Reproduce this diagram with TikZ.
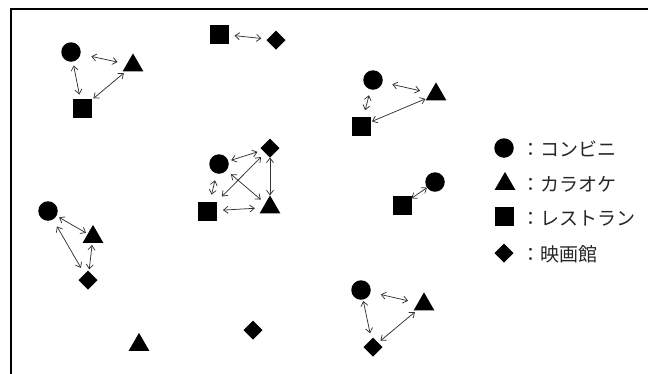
\documentclass[tikz,border=0pt]{standalone}
\usepackage{fontspec}
\newfontfamily\jpfont{Noto Sans CJK JP}
\usetikzlibrary{shapes.geometric,arrows.meta}
\definecolor{linkgrey}{HTML}{333333}
\definecolor{labelgrey}{HTML}{262626}

\begin{document}
\begin{tikzpicture}[
  x=1pt, y=-1pt,
  spot/.style={fill=black, draw=none, inner sep=0pt, outer sep=0pt},
  conveni/.style={spot, circle, minimum size=19.5pt},
  karaoke/.style={spot, regular polygon, regular polygon sides=3, minimum size=24pt},
  restaurant/.style={spot, rectangle, minimum size=19pt},
  cinema/.style={spot, diamond, minimum size=19pt},
  link/.style={draw=linkgrey, line width=0.75pt, <->, >={Straight Barb[length=4.5pt,width=7pt]}},
  linkends/.style 2 args={shorten <=#1, shorten >=#2},
  legendtext/.style={anchor=west, inner sep=0pt, font=\jpfont\fontsize{19}{19}\selectfont, text=labelgrey}
]
\useasboundingbox (0,0) rectangle (648,373);

% frame, cut off at the right and bottom
\draw[line width=2.5pt] (11,380) |- (660,9);

% upper left group
\node[conveni] (cA) at (71,52) {};
\node[karaoke] (tA) at (133,65.4) {};
\node[restaurant] (sA) at (82,108) {};
\draw[link, linkends={11pt}{9.5pt}] (cA) -- (tA);
\draw[link, linkends={4pt}{4pt}] (cA) -- (sA);
\draw[link, linkends={2.5pt}{2.5pt}] (tA) -- (sA);

% top pair
\node[restaurant] (sB) at (219,34) {};
\node[cinema] (dB) at (276,40) {};
\draw[link, linkends={6pt}{6pt}] (sB) -- (dB);

% centre group, all four linked
\node[conveni] (cC) at (219,164) {};
\node[cinema] (dC) at (270,148) {};
\node[restaurant] (sC) at (207.5,211) {};
\node[karaoke] (tC) at (270,207.4) {};
\draw[link, linkends={3pt}{5.5pt}] (cC) -- (dC);
\draw[link, linkends={7pt}{7pt}] (cC) -- (sC);
\draw[link, linkends={6pt}{7pt}] (dC) -- (sC);
\draw[link, linkends={6pt}{6pt}] (cC) -- (tC);
\draw[link] (dC) -- (tC);
\draw[link, linkends={6pt}{8pt}] (sC) -- (tC);

% upper right group
\node[conveni] (cD) at (373,80) {};
\node[karaoke] (tD) at (436,94.4) {};
\node[restaurant] (sD) at (361,126) {};
\draw[link, linkends={10pt}{10pt}] (cD) -- (tD);
\draw[link, linkends={6pt}{6.5pt}] (cD) -- (sD);
\draw[link, linkends={1.5pt}{1.5pt}] (tD) -- (sD);

% right pair
\node[conveni] (cE) at (435,182) {};
\node[restaurant] (sE) at (402,205) {};
\draw[link] (cE) -- (sE);

% left group
\node[conveni] (cF) at (48,211) {};
\node[karaoke] (tF) at (93,236.9) {};
\node[cinema] (dF) at (88,280) {};
\draw[link, linkends={3pt}{2pt}] (cF) -- (tF);
\draw[link, linkends={8pt}{7pt}] (cF) -- (dF);
\draw[link, linkends={2pt}{2pt}] (tF) -- (dF);

% single spots
\node[karaoke] (tG) at (139,344.9) {};
\node[cinema] (dG) at (253,330) {};

% lower right group
\node[conveni] (cH) at (361,290) {};
\node[karaoke] (tH) at (424,304.4) {};
\node[cinema] (dH) at (373,347) {};
\draw[link, linkends={10.5pt}{10pt}] (cH) -- (tH);
\draw[link, linkends={1.5pt}{6pt}] (cH) -- (dH);
\draw[link, linkends={2.5pt}{3pt}] (tH) -- (dH);

% legend
\node[conveni] (keyC) at (504,148) {};
\node[karaoke] (keyT) at (505,183.9) {};
\node[restaurant] (keyS) at (504,216) {};
\node[cinema] (keyD) at (504,253) {};
\node[legendtext] (labC) at (521,149) {：コンビニ};
\node[legendtext] (labT) at (521,184) {：カラオケ};
\node[legendtext] (labS) at (521,219) {：レストラン};
\node[legendtext] (labD) at (521,254) {：映画館};

\end{tikzpicture}
\end{document}
